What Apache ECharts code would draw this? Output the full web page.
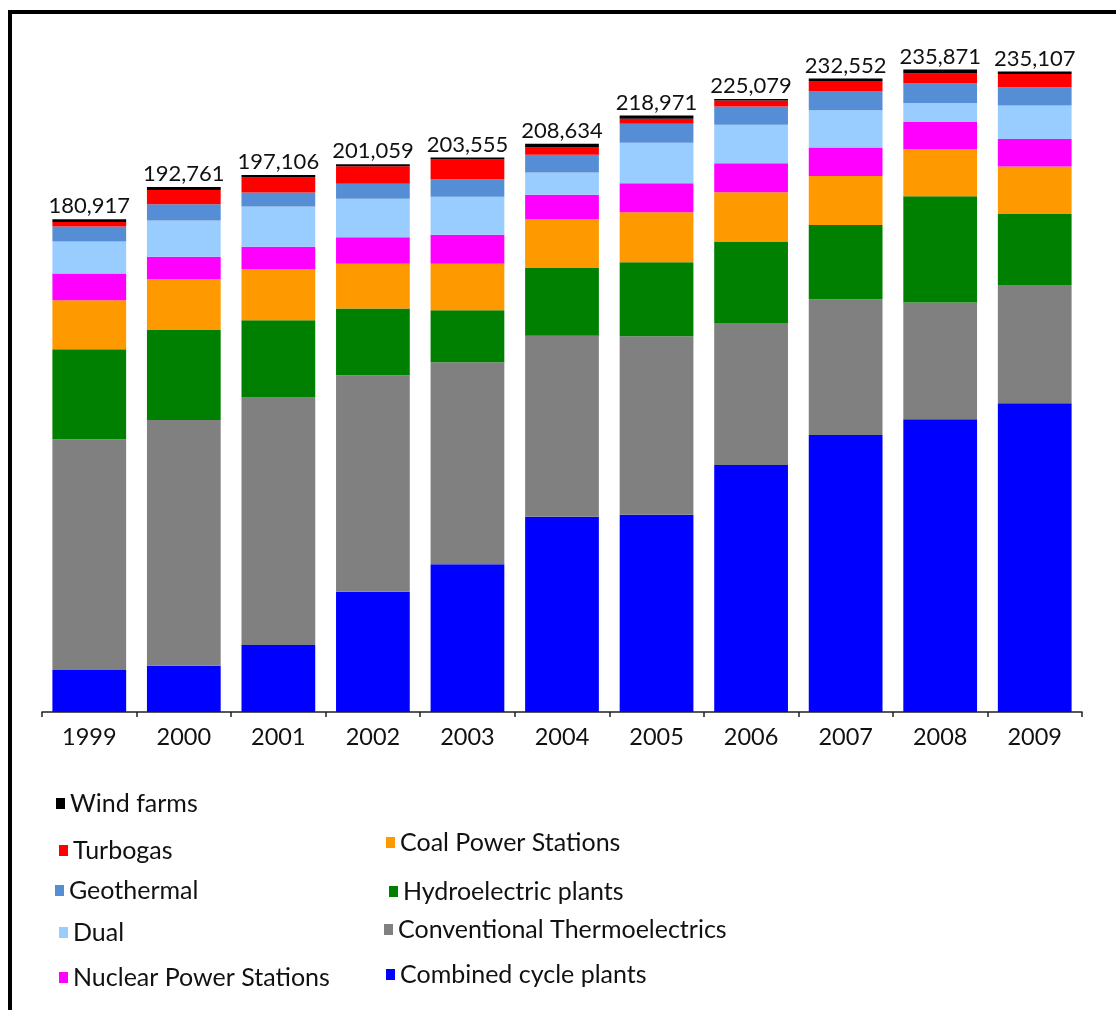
<!DOCTYPE html>
<html>
<head>
<meta charset="utf-8">
<title>Generation by plant type, 1999-2009</title>
<script src="https://cdn.jsdelivr.net/npm/echarts@6/dist/echarts.min.js"></script>
<style>
  html, body { margin: 0; padding: 0; background: #fff; }
  #chart { width: 1116px; height: 1010px; }
</style>
</head>
<body>
<div id="chart"></div>
<script>
// Years on the category axis
const years = ['1999', '2000', '2001', '2002', '2003', '2004', '2005', '2006', '2007', '2008', '2009'];

// Values per plant type, listed bottom of the stack to top
const combinedCycle      = [15422, 17000, 24600, 44170, 54230, 71720, 72450, 90700, 101710, 107480, 113350];
const conventionalThermo = [84692, 90221, 90856, 79449, 74205, 66414, 65481, 52139, 49802, 42841, 43427];
const hydroelectric      = [33048, 33050, 28390, 24490, 19090, 24860, 27170, 29850, 27280, 39030, 26070];
const coal               = [17993, 18600, 18730, 16410, 17040, 17990, 18360, 18140, 17990, 17260, 17370];
const nuclear            = [9804, 8300, 8200, 9770, 10650, 8920, 10650, 10650, 10430, 10020, 10170];
const dual               = [11750, 13220, 14830, 14100, 13950, 8190, 14830, 14060, 13700, 6980, 12230];
const geothermal         = [5508, 6020, 5140, 5510, 6350, 6500, 6980, 6720, 6870, 7120, 6760];
const turbogas           = [1700, 5250, 5510, 6460, 7340, 2680, 1840, 2200, 3890, 3670, 4880];
const windFarms          = [1000, 1100, 850, 700, 700, 1360, 1210, 620, 880, 1470, 850];

const seriesDefs = [
  { name: 'Combined cycle plants',        data: combinedCycle,      color: '#0000FF' },
  { name: 'Conventional Thermoelectrics', data: conventionalThermo, color: '#808080' },
  { name: 'Hydroelectric plants',         data: hydroelectric,      color: '#008000' },
  { name: 'Coal Power Stations',          data: coal,               color: '#FF9900' },
  { name: 'Nuclear Power Stations',       data: nuclear,            color: '#FF00FF' },
  { name: 'Dual',                         data: dual,               color: '#99CCFF' },
  { name: 'Geothermal',                   data: geothermal,         color: '#558ED5' },
  { name: 'Turbogas',                     data: turbogas,           color: '#FF0000' },
  { name: 'Wind farms',                   data: windFarms,          color: '#000000' }
];

const FONT = 'Lato, "Open Sans", sans-serif';

// Stack total per year, shown above each bar
const totals = years.map((_, i) => seriesDefs.reduce((s, d) => s + d.data[i], 0));
const fmt = v => v.toString().replace(/\B(?=(\d{3})+(?!\d))/g, ',');

const series = seriesDefs.map((d, idx) => {
  const s = {
    name: d.name,
    type: 'bar',
    stack: 'gen',
    barCategoryGap: '22%',
    data: d.data,
    itemStyle: { color: d.color },
    emphasis: { disabled: true }
  };
  if (idx === seriesDefs.length - 1) {
    s.label = {
      show: true,
      position: 'top',
      distance: 2,
      color: '#111',
      fontFamily: FONT,
      fontSize: 22,
      formatter: p => fmt(totals[p.dataIndex])
    };
  }
  return s;
});

// Legend entries laid out in two loose columns
const legendSpots = [
  { name: 'Wind farms',                   left: 56,  top: 791 },
  { name: 'Turbogas',                     left: 59,  top: 838 },
  { name: 'Geothermal',                   left: 55,  top: 878 },
  { name: 'Dual',                         left: 59,  top: 920 },
  { name: 'Nuclear Power Stations',       left: 59,  top: 965 },
  { name: 'Coal Power Stations',          left: 386, top: 830 },
  { name: 'Hydroelectric plants',         left: 389, top: 879 },
  { name: 'Conventional Thermoelectrics', left: 384, top: 917 },
  { name: 'Combined cycle plants',        left: 386, top: 962 }
];

const legends = legendSpots.map(l => ({
  data: [l.name],
  left: l.left,
  top: l.top,
  padding: 0,
  icon: 'rect',
  itemWidth: 9,
  itemHeight: 11,
  selectedMode: false,
  textStyle: { fontFamily: FONT, fontSize: 25, color: '#111' }
}));

const chart = echarts.init(document.getElementById('chart'), null, { renderer: 'canvas' });
chart.setOption({
  animation: false,
  backgroundColor: '#fff',
  grid: { left: 42, right: 34, top: 31, bottom: 298 },
  legend: legends,
  xAxis: {
    type: 'category',
    data: years,
    boundaryGap: true,
    axisLine: { lineStyle: { color: '#222', width: 1.5 } },
    axisTick: { show: true, alignWithLabel: false, length: 5, lineStyle: { color: '#222', width: 1.5 } },
    axisLabel: { color: '#111', fontFamily: FONT, fontSize: 23.5, margin: 13 }
  },
  yAxis: {
    type: 'value',
    min: 0,
    max: 250000,
    show: false,
    splitLine: { show: false }
  },
  series: series,
  graphic: [{
    type: 'rect',
    silent: true,
    shape: { x: 10, y: 12, width: 1300, height: 1200 },
    style: { fill: 'none', stroke: '#000', lineWidth: 4 }
  }]
});
</script>
</body>
</html>
